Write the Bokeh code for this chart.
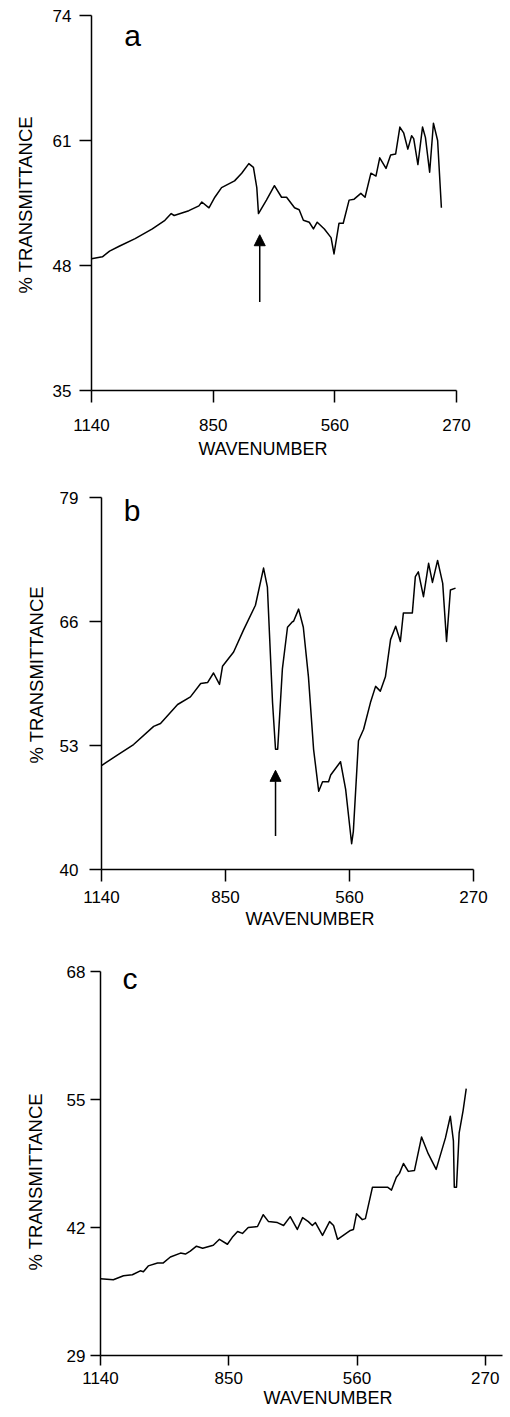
from bokeh.plotting import figure
from bokeh.models import Range1d, FixedTicker, Title, Arrow, NormalHead, Label
from bokeh.embed import file_html
from bokeh.resources import INLINE

FONT = "Liberation Sans"

x_ticks = [1140, 850, 560, 270]
x_label = "WAVENUMBER"
y_label = "% TRANSMITTANCE"

# ---- panel a ----
wn_a = [1140, 1114, 1097, 1074, 1036, 995, 965, 950, 943, 908, 884, 877, 860, 846, 830,
        799, 782, 765, 754, 746, 742, 723, 704, 687, 675, 656, 645, 635, 621, 611,
        602, 585, 569, 562, 550, 540, 526, 514, 498, 488, 474, 462, 453, 438, 427,
        415, 405, 396, 386, 377, 372, 362, 351, 344, 334, 325, 315, 306]
tr_a = [48.7, 48.9, 49.5, 50.0, 50.8, 51.8, 52.7, 53.4, 53.2, 53.7, 54.2, 54.6, 54.0, 55.1, 56.1,
        56.8, 57.6, 58.6, 58.2, 56.1, 53.4, 54.8, 56.3, 55.1, 55.1, 54.0, 53.8, 52.7, 52.5, 51.8,
        52.5, 51.8, 50.9, 49.2, 52.4, 52.4, 54.8, 54.9, 55.5, 55.1, 57.6, 57.3, 59.2, 58.1, 59.5,
        59.6, 62.4, 61.8, 60.1, 61.5, 61.2, 58.5, 62.4, 61.3, 57.7, 62.8, 61.0, 54.0]
y_ticks_a = [35, 48, 61, 74]
arrow_a = (739, 44.2, 51.2)   # wavenumber, tail, tip

# ---- panel b ----
wn_b = [1140, 1103, 1065, 1018, 1002, 962, 932, 908, 892, 878, 864, 857, 831, 808, 780,
        761, 752, 740, 733, 728, 717, 705, 693, 691, 679, 668, 656, 644, 632, 623,
        609, 604, 581, 569, 555, 551, 539, 527, 511, 499, 488, 476, 464, 452, 441,
        434, 413, 406, 399, 387, 375, 366, 354, 342, 333, 324, 312]
tr_b = [50.9, 52.0, 53.1, 55.0, 55.3, 57.3, 58.1, 59.5, 59.6, 60.6, 59.4, 61.3, 62.8, 65.1, 67.7,
        71.6, 69.6, 57.5, 52.6, 52.6, 61.0, 65.4, 66.0, 66.0, 67.3, 65.4, 60.2, 52.6, 48.2, 49.2,
        49.2, 49.9, 51.3, 48.4, 42.7, 44.0, 53.5, 54.7, 57.5, 59.2, 58.7, 60.2, 64.1, 65.5, 63.9,
        66.9, 66.9, 70.7, 71.2, 68.6, 72.1, 70.1, 72.4, 70.0, 63.9, 69.3, 69.5]
y_ticks_b = [40, 53, 66, 79]
arrow_b = (733, 43.5, 50.4)

# ---- panel c ----
wn_c = [1140, 1111, 1088, 1068, 1050, 1043, 1032, 1011, 998, 982, 959, 948, 937, 923, 909,
        885, 871, 853, 842, 830, 819, 806, 785, 772, 760, 740, 726, 711, 695, 683,
        670, 661, 654, 638, 622, 613, 604, 591, 575, 568, 561, 548, 541, 525, 512,
        491, 482, 471, 464, 455, 444, 430, 414, 399, 381, 360, 349, 342, 340, 335,
        329, 320, 313]
tr_c = [36.8, 36.7, 37.1, 37.2, 37.6, 37.5, 38.1, 38.4, 38.4, 39.0, 39.4, 39.3, 39.6, 40.1, 39.9,
        40.2, 40.8, 40.3, 41.0, 41.6, 41.4, 42.0, 42.1, 43.3, 42.6, 42.5, 42.2, 43.1, 41.8, 43.0,
        42.6, 42.2, 42.5, 41.2, 42.6, 42.2, 40.8, 41.2, 41.7, 41.8, 43.4, 42.8, 42.9, 46.1, 46.1,
        46.1, 45.8, 47.1, 47.5, 48.5, 47.7, 47.8, 51.2, 49.5, 47.9, 51.1, 53.3, 50.8, 46.1, 46.1,
        51.6, 53.9, 56.1]
y_ticks_c = [29, 42, 55, 68]

W = 508


def panel(wn, tr, yticks, x_end, height, borders, tick_x, tick_y, std_x, std_y,
          xlab_off, xlab_std, ylab_off, ylab_std, letter, letter_pos, arrow=None):
    left, right, top, bottom = borders
    p = figure(width=W, height=height, output_backend="svg", toolbar_location=None,
               x_range=Range1d(1140, x_end), y_range=Range1d(yticks[0], yticks[-1]),
               min_border_left=left, min_border_right=right,
               min_border_top=top, min_border_bottom=bottom)
    p.outline_line_color = None
    p.grid.visible = False
    p.background_fill_color = "white"
    p.border_fill_color = "white"

    p.xaxis.ticker = FixedTicker(ticks=x_ticks)
    p.yaxis.ticker = FixedTicker(ticks=yticks)
    for ax, tout, std in ((p.xaxis, tick_x, std_x), (p.yaxis, tick_y, std_y)):
        ax.axis_line_color = "black"
        ax.axis_line_width = 1.5
        ax.major_tick_line_color = "black"
        ax.major_tick_line_width = 1.5
        ax.major_tick_out = tout
        ax.major_tick_in = 0
        ax.minor_tick_line_color = None
        ax.major_label_standoff = std
        ax.major_label_text_font = FONT
        ax.major_label_text_font_size = "17px"
        ax.major_label_text_color = "black"

    p.add_layout(Title(text=x_label, align="left", offset=xlab_off, standoff=xlab_std,
                       vertical_align="middle", text_font=FONT, text_font_size="18px",
                       text_font_style="normal", text_color="black"), "below")
    p.add_layout(Title(text=y_label, align="left", offset=ylab_off, standoff=ylab_std,
                       vertical_align="middle", text_font=FONT, text_font_size="18.5px",
                       text_font_style="normal", text_color="black"), "left")

    p.line(wn, tr, line_color="black", line_width=1.5, line_join="round")

    p.add_layout(Label(x=letter_pos[0], y=letter_pos[1], text=letter, text_font=FONT,
                       text_font_size="30px", text_color="black", text_align="left",
                       text_baseline="alphabetic"))
    if arrow is not None:
        p.add_layout(Arrow(end=NormalHead(size=11, fill_color="black", line_color="black",
                                          line_width=1),
                           x_start=arrow[0], y_start=arrow[1], x_end=arrow[0], y_end=arrow[2],
                           line_color="black", line_width=1.5))
    return p


# page rows: a 0-466, b 466-932, c 932-1415
pa = panel(wn_a, tr_a, y_ticks_a, 270, 466, (89, W - 456, 15, 76), 12, 12, 16, 8,
           107, 8, 97, 26, "a", (1062, 71.9), arrow_a)
pb = panel(wn_b, tr_b, y_ticks_b, 270, 466, (101, W - 473, 31, 61), 12, 12, 9, 11,
           144, 5, 106, 17, "b", (1088, 77.6), arrow_b)
pc = panel(wn_c, tr_c, y_ticks_c, 231, 483, (100, W - 502, 39, 60), 10, 10, 6, 5,
           163, 0, 85, 33, "c", (1090, 67.3))

open("out.html", "w").write(file_html([pa, pb, pc], INLINE))
